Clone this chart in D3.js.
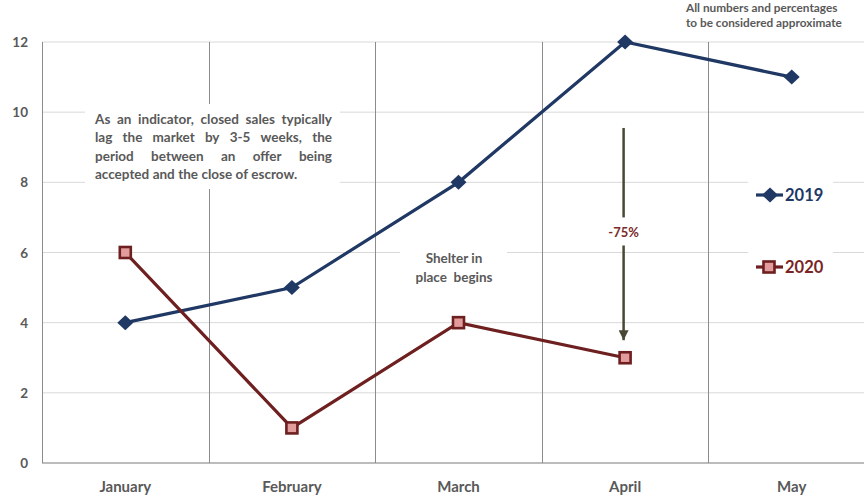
<!DOCTYPE html>
<html>
<head>
<meta charset="utf-8">
<script src="https://cdn.jsdelivr.net/npm/d3@7"></script>
<style>
  html, body { margin: 0; padding: 0; background: #fff; }
  svg { display: block; font-family: Lato, "Open Sans", sans-serif; }
</style>
</head>
<body>
<svg id="chart"></svg>
<script>
// chart data
const months = ['January', 'February', 'March', 'April', 'May']
const sales2019 = [4, 5, 8, 12, 11]
const sales2020 = [6, 1, 4, 3]
const yTicks = [0, 2, 4, 6, 8, 10, 12]
const noteLines = ['As an indicator, closed sales typically', 'lag the market by 3-5 weeks, the',
    'period between an offer being', 'accepted and the close of escrow.']
const shelterLines = ['Shelter in', 'place  begins']
const approxLines = ['All numbers and percentages', 'to be considered approximate']

let width = 864, height = 498
let navy = '#203864', maroon = '#6e1f1f', pink = '#e39c9c', grey = '#595959'

let svg = d3.select('#chart')
    .attr('width', width)
    .attr('height', height)
    .attr('viewBox', `0 0 ${width} ${height}`)

let x = d3.scaleBand().domain(months).range([42, 875])
let y = d3.scaleLinear().domain([0, 12]).range([463, 42])
let cx = m => x(m) + x.bandwidth() / 2

let gridG = svg.append('g')
let boxG = svg.append('g')
let lineG = svg.append('g')
let textG = svg.append('g')

// horizontal grid
gridG.selectAll('.hgrid')
    .data(yTicks)
    .enter().append('line')
    .attr('x1', 42).attr('x2', width)
    .attr('y1', d => y(d)).attr('y2', d => y(d))
    .attr('stroke', d => d == 0 ? '#a6a6a6' : '#d9d9d9')
    .attr('stroke-width', d => d == 0 ? 1.5 : 1)

// vertical separators between months
gridG.selectAll('.vgrid')
    .data(months)
    .enter().append('line')
    .attr('x1', d => Math.round(x(d)) + 0.5).attr('x2', d => Math.round(x(d)) + 0.5)
    .attr('y1', y(12)).attr('y2', y(0))
    .attr('stroke', '#8c8c8c')
    .attr('stroke-width', 1)

// y labels
textG.selectAll('.ylab')
    .data(yTicks)
    .enter().append('text')
    .attr('x', 28)
    .attr('y', d => y(d) + 5)
    .attr('text-anchor', 'end')
    .attr('font-size', 13.5)
    .attr('font-weight', 700)
    .attr('fill', grey)
    .text(d => d)

// x labels
textG.selectAll('.xlab')
    .data(months)
    .enter().append('text')
    .attr('x', d => cx(d))
    .attr('y', 492)
    .attr('text-anchor', 'middle')
    .attr('font-size', 15)
    .attr('font-weight', 700)
    .attr('fill', grey)
    .text(d => d)

// white boxes behind annotations
let boxes = [
    {x: 85, y: 104, w: 255, h: 85},
    {x: 400, y: 240, w: 107, h: 48},
    {x: 748, y: 177, w: 85, h: 36},
    {x: 748, y: 248, w: 85, h: 38}
]
boxG.selectAll('rect')
    .data(boxes)
    .enter().append('rect')
    .attr('x', d => d.x).attr('y', d => d.y)
    .attr('width', d => d.w).attr('height', d => d.h)
    .attr('fill', '#fff')

// justified note text
let noteLeft = 95, noteRight = 332
noteLines.forEach(function(line, i) {
    let words = line.split(' ')
    let t = textG.append('text')
        .attr('y', 124 + i * 18.3)
        .attr('font-size', 13.5)
        .attr('font-weight', 700)
        .attr('fill', grey)
    let spans = words.map(w => t.append('tspan').text(w))
    let widths = spans.map(s => s.node().getComputedTextLength())
    let total = d3.sum(widths)
    let last = i == noteLines.length - 1
    let gap = last ? 3.4 : (noteRight - noteLeft - total) / (words.length - 1)
    let pos = noteLeft
    spans.forEach(function(s, j) {
        s.attr('x', pos)
        pos += widths[j] + gap
    })
})

// shelter in place
textG.selectAll('.shelter')
    .data(shelterLines)
    .enter().append('text')
    .attr('x', 454)
    .attr('y', (d, i) => 263 + i * 19)
    .attr('text-anchor', 'middle')
    .attr('font-size', 13.5)
    .attr('font-weight', 700)
    .attr('fill', grey)
    .style('white-space', 'pre')
    .text(d => d)

// approx note
textG.selectAll('.approx')
    .data(approxLines)
    .enter().append('text')
    .attr('x', 686)
    .attr('y', (d, i) => 12 + i * 15)
    .attr('font-size', 11.8)
    .attr('font-weight', 700)
    .attr('fill', grey)
    .text(d => d)

// -75% arrow
let arrowX = cx('April') - 1.5
svg.append('defs').append('marker')
    .attr('id', 'arrowHead')
    .attr('viewBox', '0 0 10 10')
    .attr('refX', 10).attr('refY', 5)
    .attr('markerWidth', 4).attr('markerHeight', 4)
    .attr('orient', 'auto')
    .append('path')
    .attr('d', 'M0,0 L10,5 L0,10 Z')
    .attr('fill', '#4a4835')
lineG.append('line')
    .attr('x1', arrowX).attr('x2', arrowX)
    .attr('y1', y(9.55)).attr('y2', y(7))
    .attr('stroke', '#4a4835').attr('stroke-width', 2.5)
lineG.append('line')
    .attr('x1', arrowX).attr('x2', arrowX)
    .attr('y1', y(6.2)).attr('y2', y(3.5))
    .attr('stroke', '#4a4835').attr('stroke-width', 2.5)
    .attr('marker-end', 'url(#arrowHead)')
textG.append('text')
    .attr('x', arrowX)
    .attr('y', 237)
    .attr('text-anchor', 'middle')
    .attr('font-size', 13)
    .attr('font-weight', 700)
    .attr('fill', '#7a2a2a')
    .text('-75%')

// series lines
let line = d3.line().x((d, i) => cx(months[i])).y(d => y(d))
lineG.append('path')
    .attr('d', line(sales2019))
    .attr('fill', 'none').attr('stroke', navy).attr('stroke-width', 3.2)
lineG.append('path')
    .attr('d', line(sales2020))
    .attr('fill', 'none').attr('stroke', maroon).attr('stroke-width', 3.2)

let diamond = 'M0,-7.5 L8,0 L0,7.5 L-8,0 Z'

lineG.selectAll('.d2019')
    .data(sales2019)
    .enter().append('path')
    .attr('d', diamond)
    .attr('transform', (d, i) => `translate(${cx(months[i])},${y(d)})`)
    .attr('fill', navy)

lineG.selectAll('.s2020')
    .data(sales2020)
    .enter().append('rect')
    .attr('x', (d, i) => cx(months[i]) - 5.5)
    .attr('y', d => y(d) - 5.5)
    .attr('width', 11).attr('height', 11)
    .attr('fill', pink).attr('stroke', maroon).attr('stroke-width', 2.6)

// legend
let legend = [
    {name: '2019', color: navy, ly: 195},
    {name: '2020', color: maroon, ly: 267}
]
let lg = lineG.selectAll('.legend')
    .data(legend)
    .enter().append('g')
    .attr('transform', d => `translate(756,${d.ly})`)
lg.append('line')
    .attr('x1', 0).attr('x2', 27)
    .attr('stroke', d => d.color).attr('stroke-width', 3.2)
lg.filter(d => d.name == '2019').append('path')
    .attr('d', diamond)
    .attr('transform', 'translate(14,0)')
    .attr('fill', navy)
lg.filter(d => d.name == '2020').append('rect')
    .attr('x', 7.5).attr('y', -5.5)
    .attr('width', 11).attr('height', 11)
    .attr('fill', pink).attr('stroke', maroon).attr('stroke-width', 2.6)
lg.append('text')
    .attr('x', 29).attr('y', 6)
    .attr('font-size', 16.5)
    .attr('font-weight', 700)
    .attr('fill', d => d.name == '2019' ? navy : '#7a2525')
    .text(d => d.name)
</script>
</body>
</html>
